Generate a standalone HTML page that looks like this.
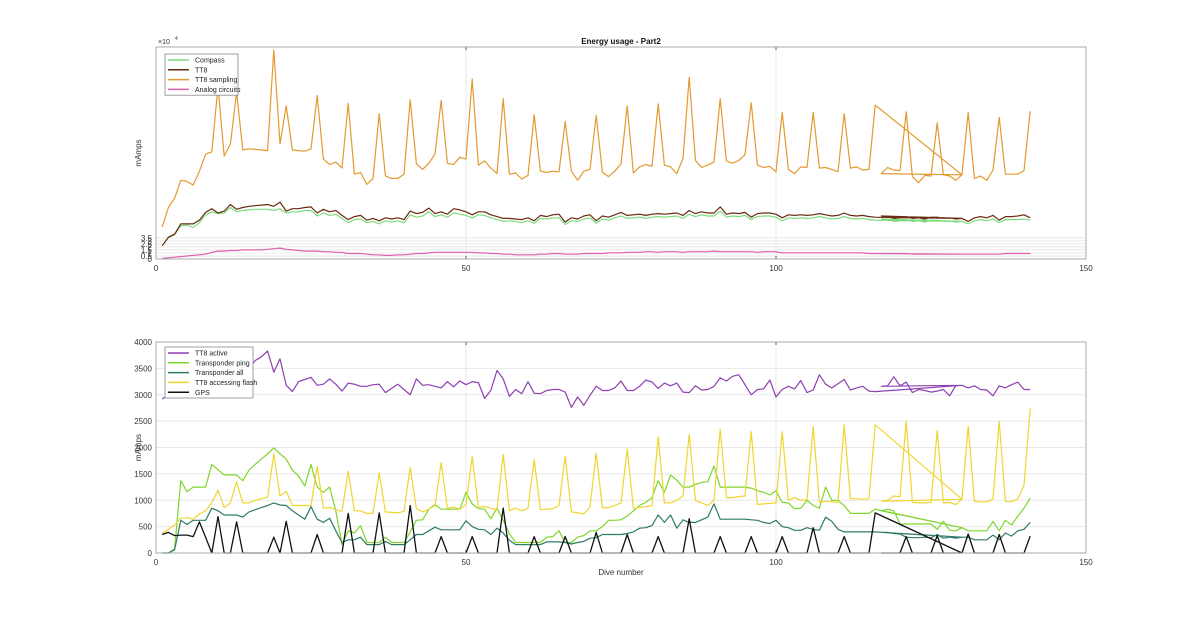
<!DOCTYPE html>
<html><head><meta charset="utf-8"><style>
html,body{margin:0;padding:0;background:#fff;}
svg{display:block;font-family:"Liberation Sans",Arial,sans-serif;}
</style></head><body>
<svg id="fig" width="1200" height="622" viewBox="0 0 1200 622">
<rect width="1200" height="622" fill="#fff"/>
</svg>
<script>
const dives = []; for (let d = 1; d <= 141; d++) dives.push(d);
const diveOrder = dives.slice(0, 116).concat([130], dives.slice(116));
const xTicks = [0, 50, 100, 150];
const topTicks = [0, 0.5, 1, 1.5, 2, 2.5, 3, 3.5];
const botTicks = [0, 500, 1000, 1500, 2000, 2500, 3000, 3500, 4000];
// top chart values in units of 1000 mAmps
const compass = [2.2,3.5,4,5.5,5.6,5.2,6,7.3,7.8,7.5,7.6,8.5,7.8,8,8.1,8.2,8.2,8.2,8,8.3,7.6,7.8,7.8,8,8,7.1,7.6,7.2,7.4,6.7,6,6.5,6.6,6,6.2,5.8,6.3,6.1,6.3,6,7.3,6.9,7.1,7.8,7,7.3,6.9,7.6,7.4,7.2,6.8,7.3,7.2,6.8,6.5,6.2,6.3,6.2,6,6.3,5.9,6.7,6.6,6.8,6.8,5.7,6.3,6.2,6.6,6.8,5.9,6.6,6.4,6.8,7.1,6.7,6.8,6.9,6.7,6.9,7,6.9,7,7.1,6.7,7.4,7,7.3,7.1,7.1,7.9,6.9,7.1,7,7.2,6.5,7,7.1,7.1,6.9,6.3,6.8,6.7,6.8,6.7,6.8,7,6.8,6.6,6.7,7,6.7,6.6,6.7,6.5,6.4,6.6,6.5,6.2,6.3,6.5,6.2,6.3,6.1,6.4,6.4,6.2,6.3,6.1,6.2,5.8,6.3,6.5,6.3,6.6,6,6.5,6.5,6.5,6.6,6.4];
const tt8 = [2.2,3.6,4.1,5.8,5.8,5.8,6.4,7.7,8.3,7.6,7.9,9,8.2,8.5,8.7,8.8,8.9,9,8.7,9.4,7.9,8.3,8.3,8.5,8.6,7.6,8.2,7.8,8,7.2,6.5,7,7.2,6.4,6.7,6.3,6.8,6.6,6.8,6.5,7.9,7.5,7.7,8.4,7.5,7.8,7.4,8.3,8.1,7.8,7.3,7.8,7.8,7.3,7,6.7,6.7,6.6,6.5,6.8,6.3,7.2,7,7.3,7.4,6.1,6.8,6.6,7.1,7.3,6.3,7.1,6.9,7.3,7.7,7.2,7.3,7.4,7.2,7.4,7.5,7.4,7.5,7.6,7.2,8,7.5,7.8,7.6,7.6,8.6,7.4,7.6,7.5,7.7,6.9,7.5,7.6,7.6,7.4,6.8,7.3,7.2,7.3,7.2,7.3,7.5,7.3,7.1,7.2,7.6,7.2,7.1,7.2,7,6.9,7.1,7,6.7,6.8,7,6.7,6.8,6.6,6.9,6.9,6.7,6.8,6.6,6.7,6.2,6.8,7,6.8,7.2,6.4,7,7,7.1,7.3,6.8];
const tt8Sampling = [5.3,8.5,10,13,12.8,12.2,14.5,17.3,17.7,28.5,17,19,27.5,18,18.2,18.1,18,17.9,34.5,19,25.3,18,17.9,17.8,18.2,27,16.5,15.6,16,15,25.7,14,14.3,12.3,13.3,24,13.7,13.3,13.3,14,26.3,15.7,14.8,15.8,17.3,26.2,15.8,15.6,16.8,16.5,29.7,15.5,16.2,15,14.1,26.5,14,14.2,13.2,13.8,23.8,14.5,14.3,14.5,14.4,22.7,14.5,13,14.5,14.8,23.7,14.3,13.6,14.5,15.7,25.3,14.2,15.2,15.6,15.3,25.6,15.5,15.2,14.1,16.6,30,16.3,15.1,15.5,16,26.5,16.2,15.8,16.3,17.2,25.8,15.5,15.1,15.3,14.4,24.2,14.8,14.1,15.2,15.1,24.2,15,15.1,14.8,14.4,24,15,15.2,14.7,14.8,25.4,14.1,15.1,14.7,14.6,24.3,13.6,12.6,13.8,13.7,22.5,13.9,13.7,13,13.9,24.2,13.3,13.7,13,14.7,23.4,14,14,14,14.6,24.4];
const analog = [0.1,0.2,0.3,0.4,0.5,0.6,0.7,0.8,1.1,1.3,1.3,1.4,1.4,1.5,1.5,1.5,1.5,1.6,1.7,1.8,1.6,1.5,1.4,1.3,1.3,1.3,1.2,1.2,1.1,1.1,0.9,0.9,0.9,0.8,0.7,0.7,0.6,0.6,0.7,0.7,0.8,0.9,0.9,1,1.1,1.1,1.1,1.1,1.1,1.1,1.1,1,1,0.9,0.9,0.8,0.8,0.7,0.7,0.7,0.7,0.8,0.8,0.9,0.9,0.8,0.8,0.8,0.9,0.9,0.9,0.9,1,1,1,1.1,1.1,1.1,1.2,1.2,1.1,1.2,1.2,1.2,1.1,1.2,1.2,1.2,1.2,1.3,1.2,1.2,1.2,1.2,1.2,1.2,1.1,1.2,1.2,1.2,1,1,1,1,1,1,1,1,1,1,1,1,1,1,0.9,0.9,0.9,0.9,0.9,0.9,0.9,0.8,0.8,0.8,0.8,0.8,0.8,0.8,0.8,0.8,0.8,0.8,0.8,0.8,0.8,0.8,0.9,0.9,0.9,0.9,0.9];
// bottom chart values in mAmps
const tt8Active = [2920,3000,3060,3120,3180,3240,3300,3350,3400,3440,3480,3500,3520,3550,3500,3650,3720,3830,3430,3680,3180,3060,3250,3290,3330,3180,3200,3300,3200,3070,3220,3200,3160,3160,3190,3200,3040,3120,3200,3100,3000,3300,3180,3190,3160,3130,3250,3150,3260,3190,3250,3230,2930,3080,3460,3300,2970,3100,3020,3250,3030,3020,3080,3100,3100,3050,2760,2960,2800,2990,3160,3080,3080,3130,3260,3080,3080,3160,3280,3240,3120,3220,3170,3220,3050,3040,3170,3090,3100,3160,3320,3260,3350,3380,3190,3000,3100,3110,3280,2960,3100,3160,3110,3270,3040,3090,3380,3200,3130,3210,3290,3090,3130,3160,3070,3060,3160,3170,3340,3170,3240,3040,3100,3080,3050,3070,3100,2980,3170,3180,3130,3170,3100,3090,2980,3170,3130,3190,3240,3100,3100];
const transponderPing = [0,0,80,1370,1160,1250,1250,1250,1680,1580,1480,1480,1480,1370,1570,1680,1780,1880,1990,1880,1780,1570,1460,1270,1680,1250,1150,1250,800,160,420,380,520,200,200,200,300,200,200,200,400,620,630,830,920,830,830,830,830,1150,930,840,830,650,850,620,370,200,200,200,200,200,300,310,420,200,200,300,330,420,420,500,620,620,630,700,800,900,960,1050,1370,1150,1480,1380,1250,1250,1300,1340,1350,1650,1250,1250,1250,1250,1250,1230,1180,1150,1100,1180,960,950,840,850,1000,900,850,1250,1000,1000,900,750,750,750,750,830,800,830,800,550,550,550,550,550,550,450,600,430,420,480,420,420,420,420,600,420,620,530,700,850,1040];
const transponderAll = [0,0,60,620,540,620,620,620,850,800,720,720,720,680,780,820,860,900,950,910,900,800,720,640,880,640,580,660,420,200,250,250,300,160,160,160,220,160,160,160,250,350,350,420,490,440,440,440,440,610,500,450,440,350,470,380,240,160,160,160,160,160,210,210,210,200,170,200,220,280,290,350,350,350,350,370,400,470,480,520,720,580,720,470,630,580,580,630,680,930,640,640,640,640,640,630,620,580,560,620,500,480,430,430,480,450,430,680,600,450,400,400,400,400,400,400,390,390,370,360,300,290,290,300,290,350,280,300,280,300,300,250,250,250,340,250,380,320,420,450,580];
const flash = [370,450,530,660,670,640,740,800,950,1190,860,950,1350,950,950,1000,1030,1060,1880,1080,1170,900,900,900,900,1640,850,860,820,790,1550,800,800,750,750,1520,780,770,760,790,1620,840,780,830,900,1720,850,870,830,920,1830,870,880,850,820,1870,800,850,800,850,1770,820,830,840,900,1840,780,760,740,870,1890,860,860,900,950,1970,850,860,880,900,2200,950,950,1000,1080,2250,1000,950,900,1000,2350,1050,1050,1070,1080,2300,920,930,940,950,2300,1000,1050,1000,1010,2400,960,980,970,960,2430,1030,1030,1020,1030,2430,980,1000,1080,1070,2500,960,950,950,960,2320,950,960,920,1020,2400,980,970,970,1020,2500,980,970,1030,1280,2740];
const gps = [350,390,330,340,340,310,590,300,0,690,0,0,590,0,0,0,0,0,300,0,600,0,0,0,0,350,0,0,0,0,750,0,0,0,0,760,0,0,0,0,900,0,0,0,0,310,0,0,0,0,310,0,0,0,0,850,0,0,0,0,310,0,0,0,0,310,0,0,0,0,390,0,0,0,0,350,0,0,0,0,310,0,0,0,0,650,0,0,0,0,310,0,0,0,0,310,0,0,0,0,310,0,0,0,0,480,0,0,0,0,310,0,0,0,0,760,0,0,0,0,310,0,0,0,0,330,0,0,0,0,360,0,0,0,0,350,0,0,0,0,320];

const NS = "http://www.w3.org/2000/svg";
const svgEl = document.getElementById('fig');
function mk(tag, attrs, parent, text) {
  const e = document.createElementNS(NS, tag);
  for (const k in attrs) e.setAttribute(k, attrs[k]);
  if (text !== undefined) e.textContent = text;
  (parent || svgEl).appendChild(e);
  return e;
}
const X0 = 156, X1 = 1086, XMAX = 150;
const xScale = d => X0 + d / XMAX * (X1 - X0);
const topAx = {y0: 259, y1: 47, max: 35};
const botAx = {y0: 553, y1: 342, max: 4000};
const yScale = (ax, v) => ax.y0 - v / ax.max * (ax.y0 - ax.y1);

function drawAxes(ax, ticks, prefix) {
  const g = mk('g', {});
  
  
  mk('rect', {x: X0, y: ax.y1, width: X1 - X0, height: ax.y0 - ax.y1, fill: '#fff'}, g);
  ticks.forEach(t => {
    const y = yScale(ax, t);
    const gl = mk('line', {x1: X0, x2: X1, y1: y, y2: y, stroke: '#e8e8e8', 'stroke-width': 1}, g);
    
    
    const tl = mk('text', {x: X0 - 4, y: y + 3, 'text-anchor': 'end', 'font-size': 8, fill: '#333'}, g, String(t));
    
    
  });
  xTicks.forEach(t => {
    const x = xScale(t);
    const gl = mk('line', {x1: x, x2: x, y1: ax.y1, y2: ax.y0, stroke: '#e8e8e8', 'stroke-width': 1}, g);
    
    
    mk('line', {x1: x, x2: x, y1: ax.y0, y2: ax.y0 - 3, stroke: '#555'}, g);
    mk('line', {x1: x, x2: x, y1: ax.y1, y2: ax.y1 + 3, stroke: '#555'}, g);
    const tl = mk('text', {x: x, y: ax.y0 + 12, 'text-anchor': 'middle', 'font-size': 8, fill: '#333'}, g, String(t));
    
    
  });
  const yl = mk('text', {x: 0, y: 0, 'font-size': 8, fill: '#333', 'text-anchor': 'middle',
    transform: 'translate(141,' + ((ax.y0 + ax.y1) / 2) + ') rotate(-90)'}, g, 'mAmps');
  
  
  return g;
}
function drawBox(ax) {
  mk('rect', {x: X0, y: ax.y1, width: X1 - X0, height: ax.y0 - ax.y1, fill: 'none', stroke: '#aaa', 'stroke-width': 1});
}
function drawSeries(ax, vals, color, name, w) {
  const pts = diveOrder.map(d => xScale(d).toFixed(1) + ',' + yScale(ax, vals[d - 1]).toFixed(1)).join(' ');
  const p = mk('polyline', {points: pts, fill: 'none', stroke: color, 'stroke-width': w || 1.2, 'stroke-linejoin': 'round'});
  
  
}
function drawLegend(x, y, w, entries, prefix) {
  const g = mk('g', {});
  
  
  mk('rect', {x: x, y: y, width: w, height: entries.length * 9.8 + 2, fill: '#fff', stroke: '#888', 'stroke-width': 0.8}, g);
  entries.forEach((e, i) => {
    const ey = y + 6 + i * 9.8;
    const eg = mk('g', {}, g);
    
    
    mk('line', {x1: x + 3, x2: x + 24, y1: ey, y2: ey, stroke: e[1], 'stroke-width': 1.5}, eg);
    mk('text', {x: x + 30, y: ey + 2.6, 'font-size': 7, fill: '#222'}, eg, e[0]);
  });
}

// Top chart
drawAxes(topAx, topTicks, 'top');
const ex = mk('text', {x: 158, y: 44, 'font-size': 7, fill: '#333'}, svgEl, '\u00d710');


mk('text', {x: 175, y: 40, 'font-size': 5, fill: '#333'}, svgEl, '4');
const ti = mk('text', {x: 621, y: 44, 'text-anchor': 'middle', 'font-size': 8, 'font-weight': 'bold', fill: '#111'}, svgEl, 'Energy usage - Part2');


drawSeries(topAx, compass, '#7ddc7d', 'compass');
drawSeries(topAx, tt8, '#6b2a12', 'tt8');
drawSeries(topAx, tt8Sampling, '#e39a2e', 'tt8-sampling');
drawSeries(topAx, analog, '#e060b0', 'analog-circuits');
drawBox(topAx);
drawLegend(165, 54, 73, [['Compass', '#7ddc7d', 'compass'], ['TT8', '#6b2a12', 'tt8'], ['TT8 sampling', '#e39a2e', 'tt8-sampling'], ['Analog circuits', '#e060b0', 'analog-circuits']], 'top');

// Bottom chart
drawAxes(botAx, botTicks, 'bottom');
drawSeries(botAx, tt8Active, '#8e3fb0', 'tt8-active');
drawSeries(botAx, transponderPing, '#7ed62c', 'transponder-ping');
drawSeries(botAx, transponderAll, '#2f7a6a', 'transponder-all');
drawSeries(botAx, flash, '#f0d530', 'tt8-accessing-flash');
drawSeries(botAx, gps, '#111', 'gps', 1.3);
drawBox(botAx);
drawLegend(165, 347, 88, [['TT8 active', '#8e3fb0', 'tt8-active'], ['Transponder ping', '#7ed62c', 'transponder-ping'], ['Transponder all', '#2f7a6a', 'transponder-all'], ['TT8 accessing flash', '#f0d530', 'tt8-accessing-flash'], ['GPS', '#111', 'gps']], 'bottom');
const xt = mk('text', {x: 621, y: 575, 'text-anchor': 'middle', 'font-size': 8, fill: '#333'}, svgEl, 'Dive number');


</script>
</body></html>
